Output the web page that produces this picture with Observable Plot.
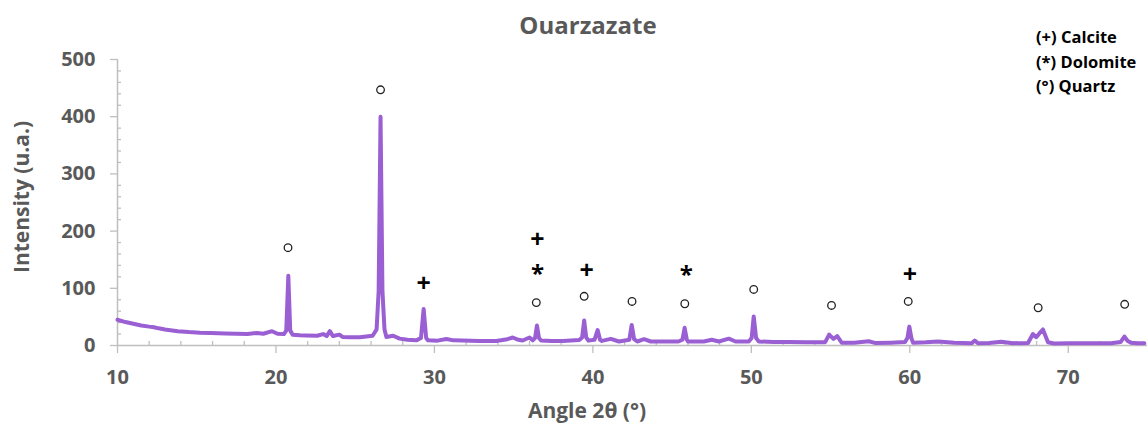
<!DOCTYPE html>
<html>
<head>
<meta charset="utf-8">
<script src="https://cdn.jsdelivr.net/npm/d3@7"></script>
<script src="https://cdn.jsdelivr.net/npm/@observablehq/plot@0.6"></script>
<style>
  html, body { margin: 0; padding: 0; background: #fff; }
  #wrap { position: relative; width: 1147px; height: 428px; overflow: hidden; font-family: "Open Sans", sans-serif; }
  #title { position: absolute; top: 8px; left: 588px; transform: translateX(-50%); font-size: 24px; font-weight: 700; color: #595959; white-space: nowrap; line-height: 34px; }
  #legend { position: absolute; top: 25px; left: 1036px; font-size: 16.5px; font-weight: 700; color: #000; line-height: 24.5px; white-space: nowrap; }
  #ylabel { position: absolute; left: 21px; top: 197px; transform: translate(-50%, -50%) rotate(-90deg); font-size: 21px; font-weight: 700; color: #595959; white-space: nowrap; }
  #xlabel { position: absolute; left: 587px; top: 410px; transform: translate(-50%, -50%); font-size: 21px; font-weight: 700; color: #595959; white-space: nowrap; }
  svg { position: absolute; left: 0; top: 0; }
</style>
</head>
<body>
<div id="wrap">
  <div id="chart"></div>
  <div id="title">Ouarzazate</div>
  <div id="legend">(+) Calcite<br>(*) Dolomite<br>(°) Quartz</div>
  <div id="ylabel">Intensity (u.a.)</div>
  <div id="xlabel">Angle 2θ (°)</div>
</div>
<script>
// Diffraction pattern (angle 2θ in degrees, intensity in u.a.)
const angle = [
  10.0, 10.5, 11.0, 11.5, 12.0, 12.3, 12.6, 13.0, 13.8, 14.5, 15.2, 15.9, 16.8, 17.5, 18.2, 18.8, 19.2, 19.75, 20.1, 20.5,
  20.65, 20.78, 20.9, 21.05, 21.5, 21.9, 22.6, 22.98, 23.2, 23.4, 23.6, 24.0, 24.2, 24.66, 25.3, 26.1, 26.35, 26.48, 26.6, 26.72,
  26.85, 26.97, 27.4, 27.8, 28.3, 28.86, 29.15, 29.32, 29.48, 29.6, 30.2, 30.75, 31.2, 31.8, 32.8, 33.9, 34.6, 34.94, 35.3, 35.57,
  36.0, 36.2, 36.35, 36.47, 36.6, 36.73, 37.4, 38.1, 39.14, 39.32, 39.45, 39.58, 39.72, 40.1, 40.3, 40.45, 40.57, 41.13, 41.65, 42.3,
  42.45, 42.6, 42.8, 43.23, 43.65, 44.5, 45.4, 45.65, 45.79, 45.93, 46.0, 47.0, 47.5, 47.95, 48.58, 49.0, 49.84, 50.02, 50.15, 50.3,
  50.47, 51.4, 52.35, 53.5, 54.66, 54.91, 55.18, 55.42, 55.7, 56.5, 57.4, 57.8, 58.8, 59.7, 59.85, 59.97, 60.1, 60.2, 61.0, 61.8,
  62.8, 63.9, 64.1, 64.3, 65.0, 65.78, 66.5, 67.46, 67.77, 67.98, 68.2, 68.4, 68.72, 69.1, 70.0, 71.0, 72.0, 72.7, 73.3, 73.54,
  73.75, 73.96, 74.4, 74.8
];
const intensity = [
  45, 41, 38, 35, 33, 32, 30, 28, 25, 23.5, 22.5, 22, 21, 20.5, 20, 22, 20.5, 25, 20.5, 20,
  26, 122, 26, 19, 18, 17.5, 17, 20, 16.5, 25, 16.5, 19, 15, 14.6, 14.5, 17, 28, 95, 400, 95,
  28, 15, 17, 12, 10, 9, 13, 64, 13, 9, 8.5, 11.5, 9, 8.7, 8, 8, 11, 14, 10, 8.7,
  14, 9, 13, 35, 13, 8.7, 8, 8, 9.5, 14, 43.7, 14, 8.5, 10, 27, 10, 8, 11.6, 7, 10,
  36, 11, 7, 11, 7, 7, 7, 10, 31, 10, 7, 7, 10, 7, 12, 7, 7, 13, 50.7, 13,
  7, 6, 6, 5.5, 5.8, 19, 11.6, 16.3, 5, 5, 7.5, 4.5, 5, 6, 13, 33, 13, 5, 5.5, 7,
  5, 4, 8.7, 4, 4.5, 6.5, 4, 4.5, 20, 14.5, 22, 28, 5.8, 3.5, 4, 4, 4, 4, 6, 15.7,
  8, 5, 4, 4
];

// Phase markers
const quartzAngle = [20.76, 26.6, 36.43, 39.45, 42.47, 45.8, 50.15, 55.06, 59.9, 68.1, 73.56];
const quartzY     = [171, 447, 75, 86, 77, 73, 98, 70, 77, 66, 72];
const calciteAngle = [29.32, 36.5, 39.6, 60.0];
const calciteY     = [108, 184, 131, 124];
const dolomiteAngle = [36.5, 45.9];
const dolomiteY     = [133, 131];

// Ticks
const xMajor = [10, 20, 30, 40, 50, 60, 70];
const xMinor = [12, 14, 16, 18, 22, 24, 26, 28, 32, 34, 36, 38, 42, 44, 46, 48, 52, 54, 56, 58, 62, 64, 66, 68, 72, 74];
const yMajor = [0, 100, 200, 300, 400, 500];
const yMinor = [20, 40, 60, 80, 120, 140, 160, 180, 220, 240, 260, 280, 320, 340, 360, 380, 420, 440, 460, 480];

const pattern = angle.map((a, i) => ({a, v: intensity[i]}));
const quartz = quartzAngle.map((a, i) => ({a, v: quartzY[i]}));
const calcite = calciteAngle.map((a, i) => ({a, v: calciteY[i]}));
const dolomite = dolomiteAngle.map((a, i) => ({a, v: dolomiteY[i]}));

const axisGray = "#bfbfbf";
const textGray = "#595959";

const chart = Plot.plot({
  width: 1147,
  height: 428,
  marginLeft: 117,
  marginRight: 0,
  marginTop: 59,
  marginBottom: 83,
  style: {fontFamily: "Open Sans", fontSize: "20px", fontWeight: "bold", background: "transparent", overflow: "visible"},
  x: {domain: [10, 75], label: null},
  y: {domain: [0, 500], label: null},
  marks: [
    Plot.axisY({ticks: yMajor, tickSize: 7, tickFormat: () => "", color: axisGray, strokeWidth: 1.3}),
    Plot.axisY({ticks: yMinor, tickSize: -4, tickFormat: () => "", color: axisGray, strokeWidth: 1.3}),
    Plot.axisY({ticks: yMajor, tickSize: 0, tickPadding: 22, color: textGray, fontSize: 20, fontWeight: "bold"}),
    Plot.axisX({ticks: xMajor, tickSize: 8, tickFormat: () => "", color: axisGray, strokeWidth: 1.3}),
    Plot.axisX({ticks: xMinor, tickSize: -4, tickFormat: () => "", color: axisGray, strokeWidth: 1.3}),
    Plot.axisX({ticks: xMajor, tickSize: 0, tickPadding: 24, color: textGray, fontSize: 20, fontWeight: "bold"}),
    Plot.ruleX([10], {stroke: axisGray, strokeWidth: 1.5}),
    Plot.ruleY([0], {stroke: axisGray, strokeWidth: 1.5}),
    Plot.line(pattern, {x: "a", y: "v", stroke: "#9b5fd4", strokeWidth: 4, strokeLinejoin: "round"}),
    Plot.dot(quartz, {x: "a", y: "v", r: 3.8, stroke: "#222", strokeWidth: 1.3, fill: "none"}),
    Plot.text(calcite, {x: "a", y: "v", text: () => "+", fontSize: 25, fontWeight: "bold", fill: "#000"}),
    Plot.text(dolomite, {x: "a", y: "v", text: () => "*", fontSize: 24, fontWeight: "bold", fill: "#000", dy: 5})
  ]
});
document.getElementById("chart").appendChild(chart);
</script>
</body>
</html>
